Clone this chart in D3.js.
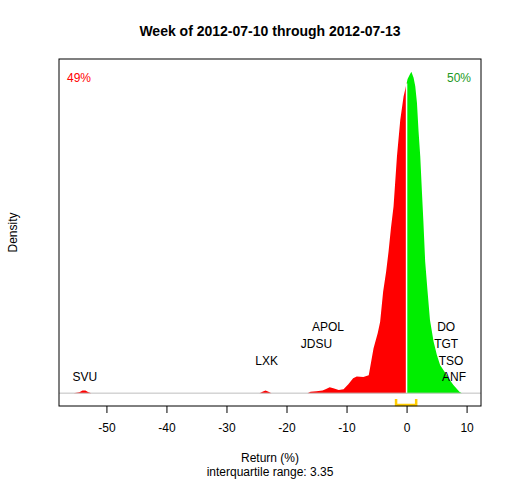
<!DOCTYPE html>
<html><head><meta charset="utf-8">
<script src="https://cdn.jsdelivr.net/npm/d3@7"></script>
<style>body{margin:0;background:#fff}text{font-family:"Liberation Sans",Arial,sans-serif}</style>
</head><body><svg id="c" width="512" height="480"></svg>
<script>
const title = "Week of 2012-07-10 through 2012-07-13";
const returns = [-55.5,-54.5,-54,-53.5,-53,-52.5,-24.5,-24,-23.5,-23,-22.5,-16.5,-16,-15,-14,-13.5,-12.8,-12.2,-11.3,-10.5,-9.7,-8.9,-8.3,-7.2,-6.3,-5.9,-5.5,-4.8,-4.4,-3.9,-3.4,-3.0,-2.6,-2.17,-1.6,-1.05,-0.5,-0.17,0.17,0.5,0.8,1.17,1.45,1.73,2.0,2.28,2.57,2.8,3.1,3.5,3.9,4.5,5.05,5.6,6.3,7.0,7.8,8.8,9.2];
const density = [0,0.0006,0.0016,0.0016,0.0006,0,0,0.0009,0.0016,0.0009,0,0,0.0009,0.0012,0.0016,0.0025,0.0037,0.0031,0.0019,0.0025,0.0056,0.0093,0.0103,0.0100,0.0112,0.0196,0.0280,0.0374,0.0445,0.0632,0.0757,0.0882,0.1028,0.1162,0.1474,0.1701,0.1847,0.1900,0.1956,0.1981,0.2000,0.1963,0.1910,0.1807,0.1629,0.1474,0.1246,0.1072,0.0819,0.0632,0.0455,0.0321,0.0237,0.0174,0.0134,0.0093,0.0050,0.0009,0];
const tickValues = [-50,-40,-30,-20,-10,0,10];
const labelNames = ["SVU","LXK","JDSU","APOL","DO","TGT","TSO","ANF"];
const labelReturns = [-53.6,-23.3,-15.0,-13.1,6.6,6.6,7.4,7.9];
const labelLevels = [0,1,2,3,3,2,1,0];
const pctDown = "49%", pctUp = "50%";
const q1 = -1.75, q3 = 1.60;
const iqrText = "interquartile range: 3.35";

const svg = d3.select("#c");
const L=59, R=481, T=59, B=406;
const x = d3.scaleLinear().domain([-57.9,12.4]).range([L,R]);
const dmax = d3.max(density);
const y = d3.scaleLinear().domain([-0.04*dmax, 1.04*dmax]).range([B,T]);
const data = returns.map((r,i)=>({r, d:density[i]}));

const defs = svg.append("defs");
defs.append("clipPath").attr("id","neg").append("rect").attr("x",L).attr("y",T).attr("width",x(0)-L).attr("height",B-T);
defs.append("clipPath").attr("id","pos").append("rect").attr("x",x(0)).attr("y",T).attr("width",R-x(0)).attr("height",B-T);

const area = d3.area().x(d=>x(d.r)).y0(y(0)).y1(d=>y(d.d));
svg.append("path").datum(data).attr("d",area).attr("fill","#ff0000").attr("clip-path","url(#neg)");
svg.append("path").datum(data).attr("d",area).attr("fill","#00ee00").attr("clip-path","url(#pos)");

// zero divider
const d0 = d3.scaleLinear().domain(returns).range(density)(0);
svg.append("line").attr("x1",x(0)).attr("x2",x(0)).attr("y1",y(0)).attr("y2",y(d0)).attr("stroke","#fff").attr("stroke-width",1.5);

// baseline
svg.append("line").attr("x1",L).attr("x2",R).attr("y1",y(0)).attr("y2",y(0)).attr("stroke","#bebebe").attr("stroke-width",1);

// labels
labelNames.forEach((n,i)=>{
  svg.append("text").attr("x",x(labelReturns[i])).attr("y",y(0)-15.7-labelLevels[i]*16.7)
    .attr("text-anchor","middle").attr("dominant-baseline","central").attr("font-size",12).text(n);
});

// IQR bracket
svg.append("path").attr("d",`M${x(q1)},${B-7}V${B-1}H${x(q3)}V${B-7}`).attr("fill","none").attr("stroke","#ffcc00").attr("stroke-width",2.5);

// box
svg.append("rect").attr("x",L).attr("y",T).attr("width",R-L).attr("height",B-T).attr("fill","none").attr("stroke","#000").attr("stroke-width",1);

// axis
const ax = svg.append("g").attr("transform",`translate(0,${B})`)
  .call(d3.axisBottom(x).tickValues(tickValues).tickSize(7).tickPadding(10).tickFormat(d=>String(d)));
ax.select(".domain").remove();
ax.selectAll("text").attr("font-size",12).attr("font-family","Liberation Sans, Arial, sans-serif").attr("fill","#000");
ax.selectAll("line").attr("stroke","#000");

// texts
svg.append("text").attr("x",(L+R)/2).attr("y",31).attr("text-anchor","middle").attr("dominant-baseline","central").attr("font-size",14).attr("font-weight","bold").text(title);
svg.append("text").attr("x",(L+R)/2).attr("y",457.5).attr("text-anchor","middle").attr("dominant-baseline","central").attr("font-size",12).text("Return (%)");
svg.append("text").attr("x",(L+R)/2).attr("y",471.5).attr("text-anchor","middle").attr("dominant-baseline","central").attr("font-size",12).text(iqrText);
svg.append("text").attr("transform",`translate(12.5,${(T+B)/2}) rotate(-90)`).attr("text-anchor","middle").attr("dominant-baseline","central").attr("font-size",12).text("Density");
svg.append("text").attr("x",L+20).attr("y",78).attr("text-anchor","middle").attr("dominant-baseline","central").attr("font-size",12).attr("fill","#ff0000").text(pctDown);
svg.append("text").attr("x",R-22).attr("y",78).attr("text-anchor","middle").attr("dominant-baseline","central").attr("font-size",12).attr("fill","#229922").text(pctUp);
</script></body></html>
